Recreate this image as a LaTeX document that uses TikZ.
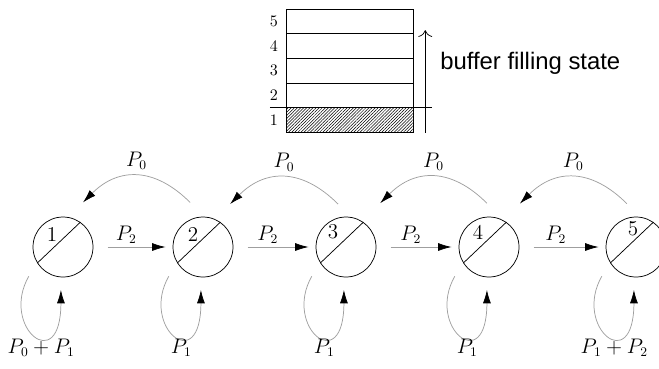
\documentclass[tikz,border=0pt]{standalone}
\usepackage{fontspec}
\newfontfamily\notefont{Liberation Sans}
\usetikzlibrary{arrows.meta,positioning,calc,patterns.meta}
\tikzset{
  % states of the buffer chain
  state/.style = {circle, draw, line width=0.5pt, minimum size=1.44cm, inner sep=0pt},
  slot/.style  = {rectangle, draw, line width=0.5pt, minimum width=3.04cm,
                  minimum height=0.592cm, inner sep=0pt},
  trans/.style = {gray!75, line width=0.5pt, -{Latex[length=3.2mm,width=1.9mm,black]}},
  lbl/.style   = {font=\fontsize{13.5}{15}\selectfont, text=black, inner sep=1pt},
  tick/.style  = {font=\fontsize{11}{13}\selectfont, inner sep=1pt},
  num/.style   = {font=\fontsize{14}{16}\selectfont, inner sep=0pt},
}
\begin{document}
\begin{tikzpicture}[x=0.024cm,y=0.024cm]
\useasboundingbox (0,0) rectangle (659,368);
\clip (0,0) rectangle (659,368);

% buffer
\node[slot, anchor=south, pattern={Lines[angle=45,distance=1.5pt,line width=0.35pt]}]
     (b1) at (350,235.3) {};
\node[tick] at ([xshift=-0.3cm]b1.west) {$1$};
\foreach \i in {2,...,5}{
  \node[slot, anchor=south] (b\i) at (350,{235.3+(\i-1)*24.68}) {};
  \node[tick] at ([xshift=-0.3cm]b\i.west) {$\i$};
}
\draw[line width=0.5pt] ([xshift=-0.4cm]b1.north west) -- ([xshift=0.45cm]b1.north east);
\draw[line width=0.5pt, -{To[length=1.6mm]}]
     ([xshift=0.28cm]b1.south east) -- ([xshift=0.28cm,yshift=2.46cm]b1.south east);
\node[anchor=west, inner sep=0pt, font=\notefont\fontsize{16.3}{19}\selectfont]
     (fill) at (440,305) {buffer filling state};

% states
\foreach \n/\x/\dx/\dy in {1/63/-11/12, 2/203/-10/12, 3/346/-13/15, 4/489/-11/14, 5/636/-3/18}{
  \node[state] (s\n) at (\x,121) {};
  \draw[line width=0.5pt] (s\n.212) -- (s\n.55);
  \node[num] at ([shift={(\dx,\dy)}]s\n.center) {$\n$};
}

% forward transitions
\foreach \a/\b in {1/2, 2/3, 3/4, 4/5}
  \draw[trans, shorten <=0.34cm, shorten >=0.17cm] (s\a) --
       node[lbl, above=1pt, xshift=-0.16cm] {$P_2$} (s\b);

% backward transitions
\foreach \a/\b/\sx/\ex/\y in {1/2/-0.31/0.48/1.07, 2/3/-0.19/0.65/1.03,
                              3/4/-0.05/0.82/1.05, 4/5/-0.22/0.74/1.04}
  \draw[trans] ([shift={(\sx cm,\y cm)}]s\b.center) to[out=135, in=45, looseness=1.2]
       node[lbl, above=3pt] {$P_0$} ([shift={(\ex cm,\y cm)}]s\a.center);

% self loops
\foreach \n/\t in {1/{P_0+P_1}, 2/P_1, 3/P_1, 4/P_1, 5/{P_1+P_2}}
  \draw[trans] ([shift={(-0.82cm,-0.70cm)}]s\n.center)
       .. controls +(-0.70cm,-1.22cm) and +(0cm,-2.1cm) ..
       node[lbl, pos=0.6, below=0pt] {$\t$} ([shift={(-0.05cm,-1.03cm)}]s\n.center);
\end{tikzpicture}
\end{document}
